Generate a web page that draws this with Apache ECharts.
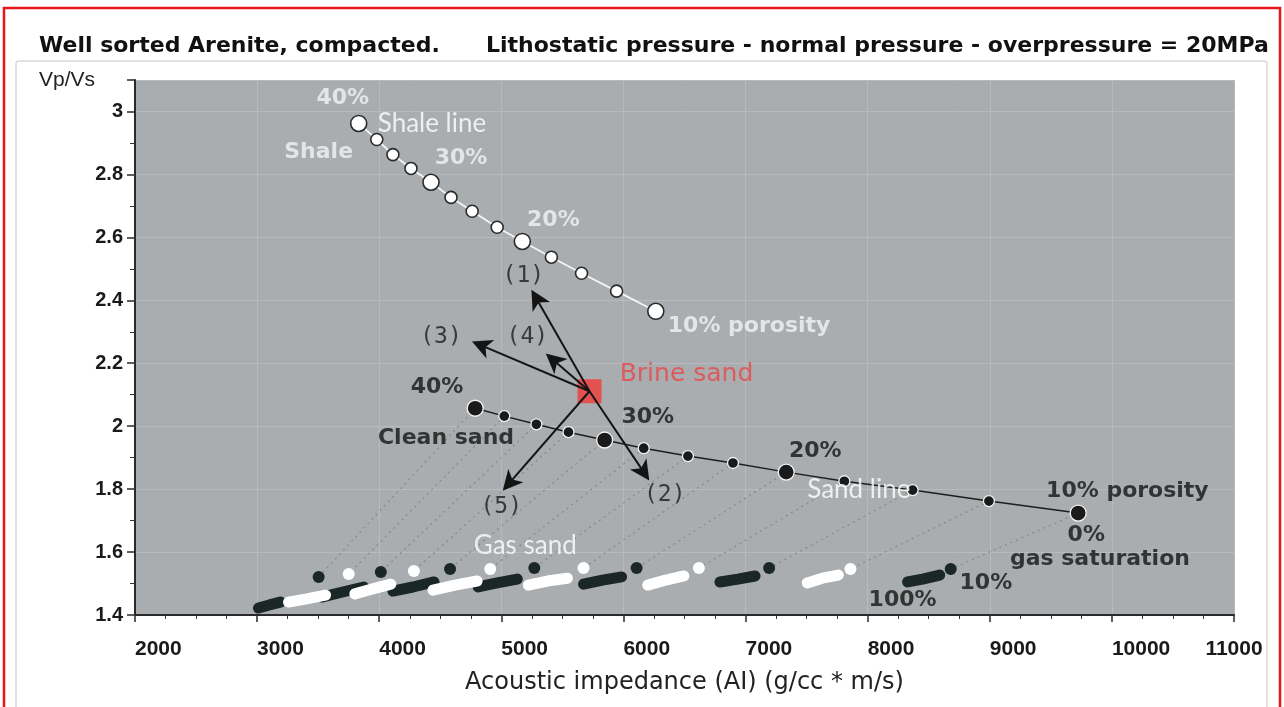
<!DOCTYPE html>
<html><head><meta charset="utf-8">
<script src="https://cdn.jsdelivr.net/npm/echarts@6/dist/echarts.min.js"></script>
<style>html,body{margin:0;padding:0;background:#fff}#c{width:1284px;height:707px}</style>
</head><body><div id="c"></div><script>
// ---- data ----
const porosity = [40, 37.5, 35, 32.5, 30, 27.5, 25, 22.5, 20, 17.5, 15, 12.5, 10];
const shaleAI   = [3832, 3980, 4112, 4260, 4424, 4588, 4761, 4966, 5172, 5410, 5657, 5944, 6265];
const shaleVpVs = [2.962, 2.911, 2.863, 2.819, 2.775, 2.727, 2.683, 2.632, 2.587, 2.537, 2.486, 2.429, 2.365];
const sandAI    = [4786, 5024, 5287, 5550, 5846, 6166, 6528, 6897, 7333, 7809, 8368, 8993, 9724];
const sandVpVs  = [2.057, 2.032, 2.006, 1.981, 1.956, 1.930, 1.905, 1.883, 1.854, 1.825, 1.797, 1.762, 1.724];
// gas sand: 10% gas saturation (isolated dot)
const gas10AI   = [3504, 3750, 4013, 4284, 4580, 4909, 5270, 5673, 6108, 6618, 7193, 7859, 8680];
const gas10VpVs = [1.521, 1.530, 1.537, 1.540, 1.546, 1.546, 1.549, 1.549, 1.549, 1.549, 1.549, 1.546, 1.546];
// gas sand streaks: 20%, 60%, 100% gas saturation
const gas20AI    = [3191, 3561, 3873, 4095, 4449, 4802, 5131, 5541, 5985, 6495, 7078, 7760, 8590];
const gas20VpVs  = [1.441, 1.463, 1.489, 1.498, 1.505, 1.508, 1.514, 1.517, 1.521, 1.524, 1.524, 1.527, 1.527];
const gas60AI    = [3101, 3405, 3701, 3947, 4276, 4621, 4966, 5377, 5829, 6347, 6938, 7629, 8450];
const gas60VpVs  = [1.432, 1.451, 1.473, 1.483, 1.489, 1.495, 1.502, 1.508, 1.511, 1.511, 1.514, 1.517, 1.514];
const gas100AI   = [3011, 3257, 3528, 3800, 4112, 4440, 4810, 5221, 5673, 6199, 6790, 7505, 8327];
const gas100VpVs = [1.422, 1.441, 1.457, 1.467, 1.476, 1.479, 1.489, 1.495, 1.498, 1.495, 1.505, 1.502, 1.505];
// brine sand and trend arrows
const brineAI = 5722, brineVpVs = 2.111;
const arrowLabels = ['(1)', '(2)', '(3)', '(4)', '(5)'];
const arrowTipAI   = [5287, 6166, 4835, 5426, 5065];
const arrowTipVpVs = [2.406, 1.854, 2.257, 2.210, 1.819];
// axis ticks
const xMin = 2000, xMax = 11000, xStep = 1000;
const yMin = 1.4, yMax = 3.1, yStep = 0.2;
// annotations: text, anchor (AI, Vp/Vs), style key
const annText  = ['40%', 'Shale line', 'Shale', '30%', '20%', '10% porosity',
  '(1)', '(3)', '(4)', '(2)', '(5)', 'Brine sand',
  '40%', '30%', 'Clean sand', '20%', 'Sand line', '10% porosity', '0%', 'gas saturation', 'Gas sand', '10%', '100%'];
const annAI    = [3701, 3988, 3504, 4670, 5426, 6363,
  5180, 4506, 5213, 6338, 4999, 5969,
  4473, 6199, 4547, 7571, 7505, 9461, 9790, 9165, 5196, 8968, 8286];
const annVpVs  = [3.041, 2.962, 2.870, 2.851, 2.654, 2.317,
  2.476, 2.283, 2.283, 1.781, 1.743, 2.165,
  2.124, 2.029, 1.962, 1.921, 1.797, 1.794, 1.654, 1.578, 1.622, 1.502, 1.448];
const annStyle = ['wb', 'wl', 'wb', 'wb', 'wb', 'wbl',
  'p', 'p', 'p', 'p', 'p', 'red',
  'bb', 'bb', 'bb', 'bb', 'wl', 'bbl', 'bb', 'bbl', 'wc', 'bb', 'bb'];

// ---- styles ----
const styles = {
  wb:  {color: '#f2f2f2', fontSize: 22, fontWeight: 'bold', fontFamily: 'DejaVu Sans', align: 'center'},
  wbl: {color: '#f2f2f2', fontSize: 22, fontWeight: 'bold', fontFamily: 'DejaVu Sans', align: 'left'},
  wl:  {color: '#ffffff', fontSize: 26, fontWeight: 'normal', fontFamily: 'Lato', align: 'left'},
  wc:  {color: '#ffffff', fontSize: 26, fontWeight: 'normal', fontFamily: 'Lato', align: 'center'},
  p:   {color: '#1c1c1c', fontSize: 23, fontWeight: 'normal', fontFamily: 'DejaVu Sans Mono', align: 'center'},
  red: {color: '#e8474a', fontSize: 25, fontWeight: 'normal', fontFamily: 'DejaVu Sans', align: 'left'},
  bb:  {color: '#141414', fontSize: 22, fontWeight: 'bold', fontFamily: 'DejaVu Sans', align: 'center'},
  bbl: {color: '#141414', fontSize: 22, fontWeight: 'bold', fontFamily: 'DejaVu Sans', align: 'left'}
};

const bigIdx = i => i % 4 === 0;

const dottedData = porosity.map((p, i) => ({coords: [[sandAI[i], sandVpVs[i]], [gas10AI[i], gas10VpVs[i]]]}));
function streak(parity) {
  const out = [];
  porosity.forEach((p, i) => {
    if (i % 2 !== parity) return;
    out.push([gas20AI[i], gas20VpVs[i]], [gas60AI[i], gas60VpVs[i]], [gas100AI[i], gas100VpVs[i]], [null, null]);
  });
  return out;
}
const arrowData = arrowLabels.map((l, i) => ({coords: [[brineAI, brineVpVs], [arrowTipAI[i], arrowTipVpVs[i]]]}));
const annData = annText.map((t, i) => ({
  value: [annAI[i], annVpVs[i]],
  label: Object.assign({show: true, position: 'inside', formatter: t, verticalAlign: 'middle'}, styles[annStyle[i]])
}));

const chart = echarts.init(document.getElementById('c'));
chart.setOption({
  animation: false,
  backgroundColor: '#ffffff',
  graphic: [
    {type: 'rect', shape: {x: 16, y: 61, width: 1251, height: 660, r: 3}, style: {fill: '#fff', stroke: '#d9d9d9', lineWidth: 1.5}, z: -10},
    {type: 'rect', shape: {x: 4, y: 8, width: 1276, height: 720}, style: {fill: 'none', stroke: '#e8171b', lineWidth: 2.5}, z: 100}
  ],
  title: [
    {text: 'Well sorted Arenite, compacted.', left: 34, top: 30, textStyle: {fontSize: 22, fontWeight: 'bold', color: '#111', fontFamily: 'DejaVu Sans'}},
    {text: 'Lithostatic pressure - normal pressure - overpressure = 20MPa', left: 481, top: 30, textStyle: {fontSize: 22, fontWeight: 'bold', color: '#111', fontFamily: 'DejaVu Sans'}}
  ],
  grid: {left: 135, right: 50, top: 80, bottom: 92, show: true, backgroundColor: '#a9adaf', borderWidth: 0},
  xAxis: {
    type: 'value', min: xMin, max: xMax, interval: xStep,
    name: 'Acoustic impedance (AI) (g/cc * m/s)', nameLocation: 'middle', nameGap: 56,
    nameTextStyle: {fontSize: 24, color: '#222', fontFamily: 'DejaVu Sans'},
    axisLine: {show: true, onZero: false, lineStyle: {color: '#2a2a2a', width: 2}},
    axisTick: {show: true, length: 7, lineStyle: {color: '#2a2a2a', width: 1.5}},
    minorTick: {show: true, splitNumber: 4, length: 4, lineStyle: {color: '#333', width: 1}},
    splitLine: {show: true, lineStyle: {color: '#b7bbbd', width: 1}},
    axisLabel: {align: 'left', alignMaxLabel: 'center', margin: 24, fontSize: 21, fontWeight: 'bold', color: '#1a1a1a', fontFamily: 'Liberation Sans',
      formatter: v => String(v)}
  },
  yAxis: {
    type: 'value', min: yMin, max: yMax, interval: yStep,
    name: 'Vp/Vs', nameLocation: 'end', nameGap: 0,
    nameTextStyle: {fontSize: 21, color: '#222', fontFamily: 'Liberation Sans', align: 'right', verticalAlign: 'middle', padding: [0, 40, 0, 0]},
    axisLine: {show: true, onZero: false, lineStyle: {color: '#2a2a2a', width: 2}},
    axisTick: {show: true, length: 8, lineStyle: {color: '#2a2a2a', width: 1.5}},
    minorTick: {show: true, splitNumber: 2, length: 5, lineStyle: {color: '#333', width: 1}},
    splitLine: {show: true, lineStyle: {color: '#b7bbbd', width: 1}},
    axisLabel: {showMaxLabel: false, margin: 12, fontSize: 20, fontWeight: 'bold', color: '#1a1a1a', fontFamily: 'Liberation Sans',
      formatter: v => String(Math.round(v * 10) / 10)}
  },
  series: [
    {type: 'lines', coordinateSystem: 'cartesian2d', z: 1, silent: true,
      lineStyle: {type: [2, 4], color: '#85898b', width: 1.2, opacity: 1}, data: dottedData},
    {type: 'line', name: 'gas black', z: 2, symbol: 'none', connectNulls: false,
      lineStyle: {color: '#1b2626', width: 11, cap: 'round', join: 'round'}, data: streak(0)},
    {type: 'line', name: 'gas white', z: 2, symbol: 'none', connectNulls: false,
      lineStyle: {color: '#ffffff', width: 11, cap: 'round', join: 'round'}, data: streak(1)},
    {type: 'scatter', name: 'gas 10%', z: 3, symbolSize: 12,
      data: gas10AI.map((x, i) => ({value: [x, gas10VpVs[i]], itemStyle: {color: i % 2 === 0 ? '#1b2626' : '#ffffff', opacity: 1}}))},
    {type: 'line', name: 'Sand line', z: 4, symbol: 'circle',
      symbolSize: (v, p) => bigIdx(p.dataIndex) ? 16 : 11,
      lineStyle: {color: '#1e1e1e', width: 1.5},
      itemStyle: {color: '#1a1a1a', borderColor: '#f4f4f4', borderWidth: 1.3},
      data: sandAI.map((x, i) => [x, sandVpVs[i]])},
    {type: 'line', name: 'Shale line', z: 4, symbol: 'circle',
      symbolSize: (v, p) => bigIdx(p.dataIndex) ? 16 : 12,
      lineStyle: {color: '#f4f4f4', width: 1.8},
      itemStyle: {color: '#ffffff', borderColor: '#2a2a2a', borderWidth: 1.6},
      data: shaleAI.map((x, i) => [x, shaleVpVs[i]])},
    {type: 'scatter', name: 'Brine sand', z: 5, symbol: 'rect', symbolSize: 24,
      itemStyle: {color: '#f23a3a'}, data: [[brineAI, brineVpVs]]},
    {type: 'lines', coordinateSystem: 'cartesian2d', z: 6, silent: true,
      symbol: ['none', 'path://M8,0 L15,17 L8,12.5 L1,17 Z'], symbolSize: 20,
      lineStyle: {color: '#141414', width: 2, opacity: 1}, data: arrowData},
    {type: 'scatter', name: 'annotations', z: 10, symbolSize: 0, silent: true, data: annData}
  ]
});
</script></body></html>
